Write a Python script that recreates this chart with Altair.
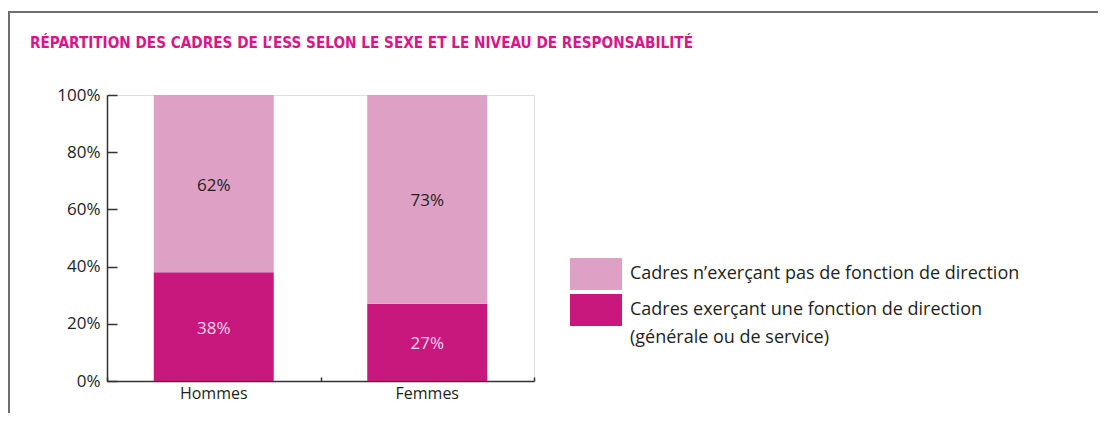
import altair as alt
import pandas as pd

sexes = ["Hommes", "Femmes"]
cat_non_dir = "Cadres n’exerçant pas de fonction de direction"
cat_dir = "Cadres exerçant une fonction de direction\n(générale ou de service)"
non_direction = [62, 73]
direction = [38, 27]
y_ticks = [0, 20, 40, 60, 80, 100]

rows = []
for s, d, n in zip(sexes, direction, non_direction):
    rows.append({"sexe": s, "cat": cat_dir, "ord": 0, "value": d})
    rows.append({"sexe": s, "cat": cat_non_dir, "ord": 1, "value": n})
df = pd.DataFrame(rows)

FONT = "Open Sans"
TXT = "#231f20"
LIGHT = "#dea0c5"
DARK = "#c8187d"

W, H = 427, 286

xscale = alt.Scale(domain=sexes, paddingInner=0, paddingOuter=0)
yscale = alt.Scale(domain=[0, 100], nice=False)

frame = alt.Chart(pd.DataFrame({"a": [0]})).mark_rect(
    fillOpacity=0, stroke="#6e6e6e", strokeWidth=2
).encode(
    x=alt.value(-98), x2=alt.value(1400), y=alt.value(-83), y2=alt.value(600)
)

bars = alt.Chart(df).mark_bar(width=alt.RelativeBandSize(0.562)).encode(
    x=alt.X("sexe:N", scale=xscale, sort=sexes, title=None,
            axis=alt.Axis(orient="bottom", ticks=False, labelAngle=0,
                          labelFontSize=16, labelColor=TXT, labelFont=FONT,
                          labelPadding=4, domainColor="#333333", domainWidth=1.5)),
    y=alt.Y("value:Q", stack="zero", scale=yscale, title=None,
            axis=alt.Axis(orient="left", values=y_ticks, ticks=False, grid=False,
                          labelExpr="datum.value + '%'", labelFontSize=17,
                          labelColor=TXT, labelFont=FONT, labelPadding=7,
                          domainColor="#333333", domainWidth=1.5)),
    color=alt.Color("cat:N", scale=alt.Scale(domain=[cat_non_dir, cat_dir], range=[LIGHT, DARK]),
                    legend=alt.Legend(title=None, orient="none", legendX=469, legendY=159,
                                      symbolType="M-1.3,-0.8L1.3,-0.8L1.3,0.8L-1.3,0.8Z",
                                      symbolSize=1600, symbolStrokeWidth=0,
                                      labelFontSize=18, labelFont=FONT, labelColor=TXT,
                                      labelOffset=14, rowPadding=0, labelLimit=600,
                                      labelExpr="split(datum.label, '\\n')")),
    order=alt.Order("ord:Q"),
)

labels = alt.Chart(df).transform_stack(
    stack="value", groupby=["sexe"], as_=["v0", "v1"], sort=[alt.SortField("ord")]
).transform_calculate(
    mid="(datum.v0 + datum.v1) / 2", lab="datum.value + '%'"
).mark_text(fontSize=17, font=FONT, dy=2).encode(
    x=alt.X("sexe:N", scale=xscale, sort=sexes, title=None,
            axis=alt.Axis(orient="top", offset=-H, labels=False, domain=False,
                          tickBand="extent", tickSize=4, tickColor="#333333", tickWidth=1.5)),
    y=alt.Y("mid:Q", scale=yscale, title=None,
            axis=alt.Axis(orient="right", offset=-W, labels=False, domain=False, grid=False,
                          values=y_ticks, tickSize=10, tickColor="#333333", tickWidth=1.5)),
    text="lab:N",
    color=alt.condition(alt.datum.ord == 0, alt.value("#f6d6e8"), alt.value(TXT)),
)

chart = alt.layer(frame, bars, labels).resolve_axis(x="independent", y="independent").properties(
    width=W, height=H,
    padding={"left": 99, "top": 87, "right": 564, "bottom": 32},
    autosize=alt.AutoSizeParams(type="none"),
    title=alt.TitleParams(
        "RÉPARTITION DES CADRES DE L’ESS SELON LE SEXE ET LE NIVEAU DE RESPONSABILITÉ",
        anchor="start", frame="group", dx=-77, offset=-40,
        font="Liberation Sans Narrow, DejaVu Sans Condensed, sans-serif",
        fontSize=15.2, fontWeight="bold", color="#d6178a",
    ),
).configure_view(stroke=None).configure(style={"guide-label": {"lineHeight": 28}})

chart.save("out.html", embed_options={"renderer": "svg", "actions": False})
